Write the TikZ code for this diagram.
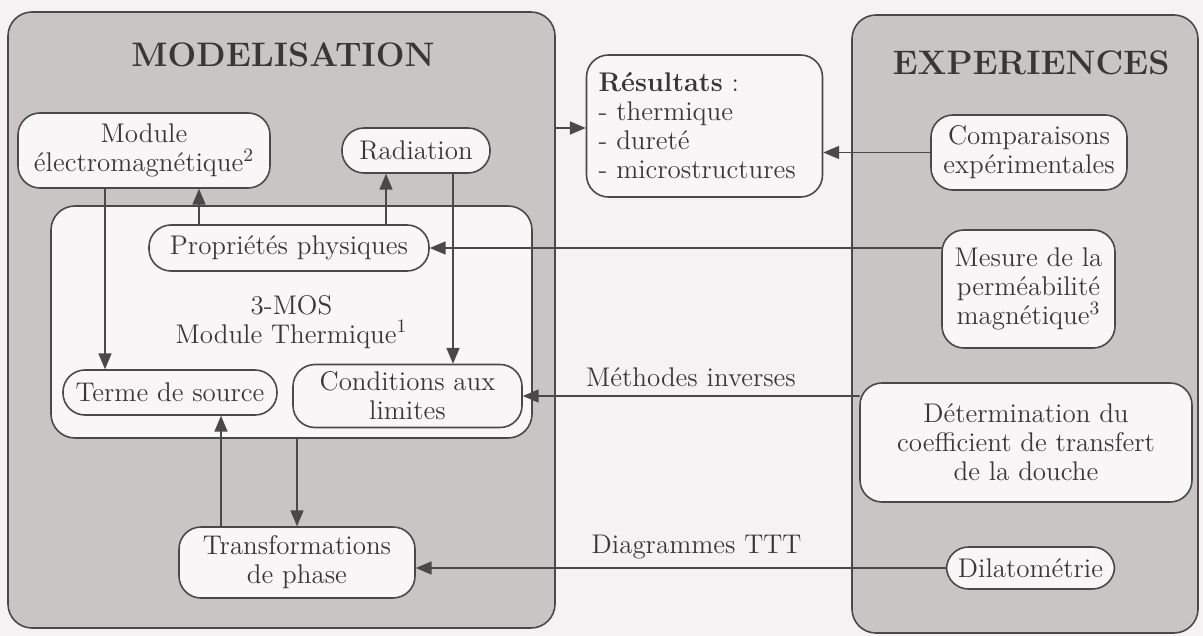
\documentclass[tikz,border=0pt]{standalone}
\usepackage{tikz}
\usetikzlibrary{arrows}
\definecolor{fond}{HTML}{F4F2F2}
\definecolor{gris}{HTML}{C9C5C5}
\definecolor{blanc}{HTML}{F8F6F6}
\definecolor{trait}{HTML}{4A4848}
\definecolor{encre}{HTML}{383636}
\tikzset{
	panneau/.style={draw=trait,line width=0.8pt,fill=gris,rounded corners=12pt},
	bloc/.style={draw=trait,line width=0.8pt,fill=blanc,rounded corners=11pt,align=center,inner sep=1pt,text=encre,font=\fontsize{13.5}{14.5}\selectfont},
	titre/.style={text=encre,font=\fontsize{17}{20}\selectfont\bfseries},
	lien/.style={->,line width=0.8pt,draw=trait},
	etiq/.style={text=encre,font=\fontsize{13.5}{14.5}\selectfont}
}
\begin{document}
\begin{tikzpicture}[line cap=round,line join=round,>=triangle 45,x=0.5pt,y=-0.5pt]
	\fill[fond] (0,0) rectangle (1203,636);
	\useasboundingbox (0,0) rectangle (1203,636);
	%%%% MODELISATION
	\draw[panneau] (8,12) rectangle (555,628);
	\node[titre] (tmod) at (283,55) {MODELISATION};
	\coordinate (modE) at (555,128);
	
	\node[bloc,minimum width=126pt,minimum height=37.5pt] (emag) at (144,150.5) {Module\\électromagnétique\textsuperscript{2}};
	\node[bloc,minimum width=74pt,minimum height=22.5pt] (rad) at (416,150.5) {Radiation};
	
	%3-MOS
	\node[bloc,minimum width=240.5pt,minimum height=116pt,rounded corners=12pt] (thm) at (291.5,322) {3-MOS\\Module Thermique\textsuperscript{1}};
	\node[bloc,minimum width=140pt,minimum height=23pt] (prop) at (289,248) {Propriétés physiques};
	\node[bloc,minimum width=107pt,minimum height=22.5pt] (src) at (170,392.5) {Terme de source};
	\node[bloc,minimum width=114.5pt,minimum height=31.5pt] (cl) at (407.5,396) {Conditions aux\\limites};
	
	\node[bloc,minimum width=118pt,minimum height=35.5pt] (trans) at (297,562.5) {Transformations\\de phase};
	
	%%%% RESULTATS
	\node[bloc,text width=106pt,inner xsep=6pt,minimum height=71pt,align=left] (res) at (704.5,126) {\textbf{Résultats} :\\- thermique\\- dureté\\- microstructures};
	
	%%%% EXPERIENCES
	\draw[panneau] (852,15) rectangle (1198,633);
	\node[titre] (texp) at (1031,63) {EXPERIENCES};
	\node[bloc,minimum width=98pt,minimum height=37.5pt] (comp) at (1029,152.5) {Comparaisons\\expérimentales};
	\node[bloc,minimum width=86.5pt,minimum height=59pt] (perm) at (1028.5,289) {Mesure de la\\perméabilité\\magnétique\textsuperscript{3}};
	\node[bloc,minimum width=166pt,minimum height=59.5pt] (douche) at (1026,442.5) {Détermination du\\coefficient de transfert\\de la douche};
	\node[bloc,minimum width=84pt,minimum height=21pt] (dil) at (1030.5,568) {Dilatométrie};
	
	%%%% FLECHES
	\draw[lien] (emag.south -| 105,0) -- (src.north -| 105,0);
	\draw[lien] (prop.north -| 199,0) -- (emag.south -| 199,0);
	\draw[lien] (prop.north -| 386,0) -- (rad.south -| 386,0);
	\draw[lien] (rad.south -| 453,0) -- (cl.north -| 453,0);
	\draw[lien] (thm.south -| trans.north) -- (trans.north);
	\draw[lien] (trans.north -| 221,0) -- (src.south -| 221,0);
	\draw[lien] (modE) -- (modE -| res.west);
	\draw[lien] (comp.west) -- (comp.west -| res.east);
	\draw[lien] (perm.west |- prop.east) -- (prop.east);
	\draw[lien] (douche.west |- cl.east) -- node[etiq,above=1pt] (minv) {Méthodes inverses} (cl.east);
	\draw[lien] (dil.west) -- node[etiq,above=1pt,pos=0.47] (ttt) {Diagrammes TTT} (dil.west -| trans.east);
\end{tikzpicture}
\end{document}
